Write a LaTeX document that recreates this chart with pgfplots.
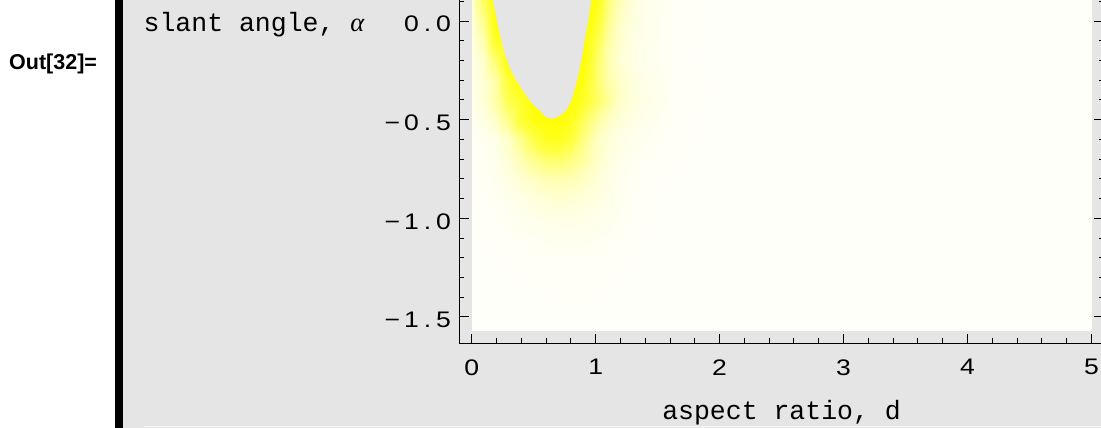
\documentclass[border=0pt]{standalone}
\usepackage{fontspec}
\setmainfont{Liberation Sans}
\setmonofont{Liberation Mono}
\newfontfamily\tickfont[FakeStretch=1.18]{Liberation Sans}
\newfontfamily\greekfont{Liberation Serif}
\usepackage{pgfplots}
\pgfplotsset{compat=1.18}
\definecolor{panel}{RGB}{229,229,229}
\newcommand\tc[1]{\makebox[16pt]{#1}}
\newcommand\mc{\makebox[22pt]{−}}
\begin{document}
\begin{tikzpicture}
\useasboundingbox (0,0) rectangle (1101pt,428pt);
\clip (0,0) rectangle (1101pt,428pt);
\fill[white] (0,0) rectangle (1101pt,428pt);
\fill[panel] (123pt,0) rectangle (1101pt,428pt);
\fill[black] (115pt,0) rectangle (123pt,428pt);
\fill[black!3] (144pt,1pt) rectangle (1101pt,2.3pt);
\node[anchor=base west, inner sep=0pt, font=\bfseries\fontsize{21.5}{24}\selectfont] at (9pt,358.3pt) {Out[32]=};
\begin{axis}[
  at={(459.3pt,84.7pt)}, anchor=south west,
  scale only axis, width=644.5pt, height=644.5pt,
  xmin=-0.1, xmax=5.1, ymin=-1.6336, ymax=1.6336,
  axis on top,
  axis line style={line width=1pt, black},
  every tick/.style={line width=1pt, black},
  tick align=inside,
  major tick length=9.5pt, minor tick length=5pt,
  xtick={0,1,2,3,4,5},
  xticklabels={\tc{0},\tc{1},\tc{2},\tc{3},\tc{4},\tc{5}},
  ytick={-1.5,-1,-0.5,0,0.5,1,1.5},
  yticklabels={\mc\tc{1}\tc{.}\tc{5},\mc\tc{1}\tc{.}\tc{0},\mc\tc{0}\tc{.}\tc{5},\tc{0}\tc{.}\tc{0},{},{},{}},
  minor x tick num=4, minor y tick num=4,
  ticklabel style={font=\tickfont\fontsize{22.5}{25}\selectfont, inner sep=0pt},
  xticklabel style={anchor=north, yshift=-16pt},
  yticklabel style={anchor=east, xshift=-7.6pt, yshift=-3pt},
  every axis x label/.style={at={(axis description cs:0.5,0)}, anchor=base, inner sep=0pt, yshift=-76.7pt},
  every axis y label/.style={at={(axis description cs:0,0.5)}, anchor=base west, inner sep=0pt, xshift=-315.8pt, yshift=-10.7pt},
  label style={font=\ttfamily\fontsize{26.5}{30}\selectfont},
  xlabel={aspect ratio, d},
  ylabel={slant angle, {\greekfont\itshape α}},
  colormap={yel}{rgb255(0cm)=(255,255,250) rgb255(3cm)=(255,255,160) rgb255(6cm)=(255,255,75) rgb255(10cm)=(255,255,0)},
  point meta min=0, point meta max=1,
]
\addplot[surf, shader=interp, mesh/cols=18, point meta=explicit] coordinates {
(0,0.3)[0.20] (0.1,0.3)[0.94] (0.2,0.3)[1] (0.3,0.3)[1] (0.4,0.3)[1] (0.5,0.3)[1] (0.6,0.3)[1] (0.7,0.3)[1] (0.8,0.3)[1] (0.9,0.3)[1] (1.0,0.3)[1] (1.1,0.3)[0.65] (1.2,0.3)[0.29] (1.3,0.3)[0.14] (1.4,0.3)[0.07] (1.6,0.3)[0.02] (2.0,0.3)[0] (5.0,0.3)[0]

(0,0.2)[0.16] (0.1,0.2)[0.76] (0.2,0.2)[1] (0.3,0.2)[1] (0.4,0.2)[1] (0.5,0.2)[1] (0.6,0.2)[1] (0.7,0.2)[1] (0.8,0.2)[1] (0.9,0.2)[1] (1.0,0.2)[0.99] (1.1,0.2)[0.55] (1.2,0.2)[0.25] (1.3,0.2)[0.12] (1.4,0.2)[0.06] (1.6,0.2)[0.02] (2.0,0.2)[0] (5.0,0.2)[0]

(0,0.1)[0.12] (0.1,0.1)[0.55] (0.2,0.1)[1] (0.3,0.1)[1] (0.4,0.1)[1] (0.5,0.1)[1] (0.6,0.1)[1] (0.7,0.1)[1] (0.8,0.1)[1] (0.9,0.1)[1] (1.0,0.1)[0.92] (1.1,0.1)[0.44] (1.2,0.1)[0.21] (1.3,0.1)[0.10] (1.4,0.1)[0.055] (1.6,0.1)[0.018] (2.0,0.1)[0] (5.0,0.1)[0]

(0,0)[0.09] (0.1,0)[0.37] (0.2,0)[1] (0.3,0)[1] (0.4,0)[1] (0.5,0)[1] (0.6,0)[1] (0.7,0)[1] (0.8,0)[1] (0.9,0)[1] (1.0,0)[0.80] (1.1,0)[0.36] (1.2,0)[0.17] (1.3,0)[0.09] (1.4,0)[0.05] (1.6,0)[0.016] (2.0,0)[0] (5.0,0)[0]

(0,-0.1)[0.07] (0.1,-0.1)[0.25] (0.2,-0.1)[0.79] (0.3,-0.1)[1] (0.4,-0.1)[1] (0.5,-0.1)[1] (0.6,-0.1)[1] (0.7,-0.1)[1] (0.8,-0.1)[1] (0.9,-0.1)[1] (1.0,-0.1)[0.65] (1.1,-0.1)[0.29] (1.2,-0.1)[0.14] (1.3,-0.1)[0.08] (1.4,-0.1)[0.045] (1.6,-0.1)[0.015] (2.0,-0.1)[0] (5.0,-0.1)[0]

(0,-0.2)[0.055] (0.1,-0.2)[0.16] (0.2,-0.2)[0.47] (0.3,-0.2)[1] (0.4,-0.2)[1] (0.5,-0.2)[1] (0.6,-0.2)[1] (0.7,-0.2)[1] (0.8,-0.2)[1] (0.9,-0.2)[0.99] (1.0,-0.2)[0.53] (1.1,-0.2)[0.24] (1.2,-0.2)[0.12] (1.3,-0.2)[0.07] (1.4,-0.2)[0.04] (1.6,-0.2)[0.014] (2.0,-0.2)[0] (5.0,-0.2)[0]

(0,-0.3)[0.05] (0.1,-0.3)[0.13] (0.2,-0.3)[0.28] (0.3,-0.3)[0.74] (0.4,-0.3)[1] (0.5,-0.3)[1] (0.6,-0.3)[1] (0.7,-0.3)[1] (0.8,-0.3)[1] (0.9,-0.3)[0.90] (1.0,-0.3)[0.51] (1.1,-0.3)[0.27] (1.2,-0.3)[0.15] (1.3,-0.3)[0.09] (1.4,-0.3)[0.055] (1.6,-0.3)[0.02] (2.0,-0.3)[0] (5.0,-0.3)[0]

(0,-0.4)[0.05] (0.1,-0.4)[0.12] (0.2,-0.4)[0.28] (0.3,-0.4)[0.60] (0.4,-0.4)[0.78] (0.5,-0.4)[1] (0.6,-0.4)[1] (0.7,-0.4)[1] (0.8,-0.4)[1] (0.9,-0.4)[0.80] (1.0,-0.4)[0.54] (1.1,-0.4)[0.33] (1.2,-0.4)[0.17] (1.3,-0.4)[0.10] (1.4,-0.4)[0.065] (1.6,-0.4)[0.025] (2.0,-0.4)[0] (5.0,-0.4)[0]

(0,-0.5)[0.03] (0.1,-0.5)[0.07] (0.2,-0.5)[0.17] (0.3,-0.5)[0.40] (0.4,-0.5)[0.72] (0.5,-0.5)[0.92] (0.6,-0.5)[0.99] (0.7,-0.5)[0.99] (0.8,-0.5)[0.85] (0.9,-0.5)[0.55] (1.0,-0.5)[0.33] (1.1,-0.5)[0.19] (1.2,-0.5)[0.11] (1.3,-0.5)[0.07] (1.4,-0.5)[0.045] (1.6,-0.5)[0.015] (2.0,-0.5)[0] (5.0,-0.5)[0]

(0,-0.6)[0.02] (0.1,-0.6)[0.03] (0.2,-0.6)[0.06] (0.3,-0.6)[0.17] (0.4,-0.6)[0.37] (0.5,-0.6)[0.63] (0.6,-0.6)[0.84] (0.7,-0.6)[0.86] (0.8,-0.6)[0.69] (0.9,-0.6)[0.42] (1.0,-0.6)[0.20] (1.1,-0.6)[0.11] (1.2,-0.6)[0.07] (1.3,-0.6)[0.045] (1.4,-0.6)[0.03] (1.6,-0.6)[0.01] (2.0,-0.6)[0] (5.0,-0.6)[0]

(0,-0.7)[0.01] (0.1,-0.7)[0.02] (0.2,-0.7)[0.05] (0.3,-0.7)[0.12] (0.4,-0.7)[0.23] (0.5,-0.7)[0.37] (0.6,-0.7)[0.47] (0.7,-0.7)[0.50] (0.8,-0.7)[0.43] (0.9,-0.7)[0.31] (1.0,-0.7)[0.18] (1.1,-0.7)[0.09] (1.2,-0.7)[0.05] (1.3,-0.7)[0.03] (1.4,-0.7)[0.02] (1.6,-0.7)[0.008] (2.0,-0.7)[0] (5.0,-0.7)[0]

(0,-0.8)[0.006] (0.1,-0.8)[0.015] (0.2,-0.8)[0.036] (0.3,-0.8)[0.073] (0.4,-0.8)[0.125] (0.5,-0.8)[0.18] (0.6,-0.8)[0.23] (0.7,-0.8)[0.25] (0.8,-0.8)[0.23] (0.9,-0.8)[0.18] (1.0,-0.8)[0.125] (1.1,-0.8)[0.073] (1.2,-0.8)[0.036] (1.3,-0.8)[0.02] (1.4,-0.8)[0.012] (1.6,-0.8)[0.005] (2.0,-0.8)[0] (5.0,-0.8)[0]

(0,-0.9)[0.005] (0.1,-0.9)[0.011] (0.2,-0.9)[0.022] (0.3,-0.9)[0.04] (0.4,-0.9)[0.065] (0.5,-0.9)[0.093] (0.6,-0.9)[0.117] (0.7,-0.9)[0.13] (0.8,-0.9)[0.126] (0.9,-0.9)[0.108] (1.0,-0.9)[0.082] (1.1,-0.9)[0.055] (1.2,-0.9)[0.032] (1.3,-0.9)[0.017] (1.4,-0.9)[0.008] (1.6,-0.9)[0.003] (2.0,-0.9)[0] (5.0,-0.9)[0]

(0,-1.0)[0.004] (0.1,-1.0)[0.008] (0.2,-1.0)[0.015] (0.3,-1.0)[0.025] (0.4,-1.0)[0.037] (0.5,-1.0)[0.05] (0.6,-1.0)[0.062] (0.7,-1.0)[0.069] (0.8,-1.0)[0.069] (0.9,-1.0)[0.064] (1.0,-1.0)[0.053] (1.1,-1.0)[0.039] (1.2,-1.0)[0.027] (1.3,-1.0)[0.015] (1.4,-1.0)[0.007] (1.6,-1.0)[0.002] (2.0,-1.0)[0] (5.0,-1.0)[0]

(0,-1.1)[0.003] (0.1,-1.1)[0.006] (0.2,-1.1)[0.010] (0.3,-1.1)[0.015] (0.4,-1.1)[0.021] (0.5,-1.1)[0.027] (0.6,-1.1)[0.032] (0.7,-1.1)[0.036] (0.8,-1.1)[0.037] (0.9,-1.1)[0.035] (1.0,-1.1)[0.031] (1.1,-1.1)[0.025] (1.2,-1.1)[0.018] (1.3,-1.1)[0.01] (1.4,-1.1)[0.005] (1.6,-1.1)[0.001] (2.0,-1.1)[0] (5.0,-1.1)[0]

(0,-1.2)[0.002] (0.1,-1.2)[0.003] (0.2,-1.2)[0.005] (0.3,-1.2)[0.008] (0.4,-1.2)[0.011] (0.5,-1.2)[0.014] (0.6,-1.2)[0.017] (0.7,-1.2)[0.019] (0.8,-1.2)[0.02] (0.9,-1.2)[0.019] (1.0,-1.2)[0.017] (1.1,-1.2)[0.014] (1.2,-1.2)[0.01] (1.3,-1.2)[0.006] (1.4,-1.2)[0.003] (1.6,-1.2)[0] (2.0,-1.2)[0] (5.0,-1.2)[0]

(0,-1.35)[0.001] (0.1,-1.35)[0.001] (0.2,-1.35)[0.002] (0.3,-1.35)[0.003] (0.4,-1.35)[0.004] (0.5,-1.35)[0.005] (0.6,-1.35)[0.006] (0.7,-1.35)[0.007] (0.8,-1.35)[0.008] (0.9,-1.35)[0.008] (1.0,-1.35)[0.007] (1.1,-1.35)[0.006] (1.2,-1.35)[0.004] (1.3,-1.35)[0.002] (1.4,-1.35)[0.001] (1.6,-1.35)[0] (2.0,-1.35)[0] (5.0,-1.35)[0]

(0,-1.5708)[0] (0.1,-1.5708)[0] (0.2,-1.5708)[0] (0.3,-1.5708)[0] (0.4,-1.5708)[0] (0.5,-1.5708)[0] (0.6,-1.5708)[0] (0.7,-1.5708)[0] (0.8,-1.5708)[0] (0.9,-1.5708)[0] (1.0,-1.5708)[0] (1.1,-1.5708)[0] (1.2,-1.5708)[0] (1.3,-1.5708)[0] (1.4,-1.5708)[0] (1.6,-1.5708)[0] (2.0,-1.5708)[0] (5.0,-1.5708)[0]
};
\addplot[draw=none, fill=panel] coordinates {
(0.105,0.40) (0.125,0.30) (0.148,0.20) (0.172,0.105) (0.190,0.05) (0.204,0.0)
(0.222,-0.05) (0.240,-0.098) (0.260,-0.15) (0.285,-0.199) (0.318,-0.25)
(0.361,-0.301) (0.410,-0.35) (0.468,-0.402) (0.505,-0.43) (0.549,-0.453)
(0.590,-0.482) (0.615,-0.491) (0.643,-0.495) (0.665,-0.494) (0.694,-0.487)
(0.730,-0.472) (0.764,-0.453) (0.785,-0.43) (0.805,-0.402) (0.830,-0.35)
(0.850,-0.301) (0.869,-0.25) (0.886,-0.199) (0.900,-0.15) (0.912,-0.098)
(0.926,-0.05) (0.940,0.0) (0.953,0.05) (0.966,0.105) (0.99,0.20) (1.012,0.30) (1.03,0.40)
} -- cycle;
\end{axis}
\end{tikzpicture}
\end{document}
